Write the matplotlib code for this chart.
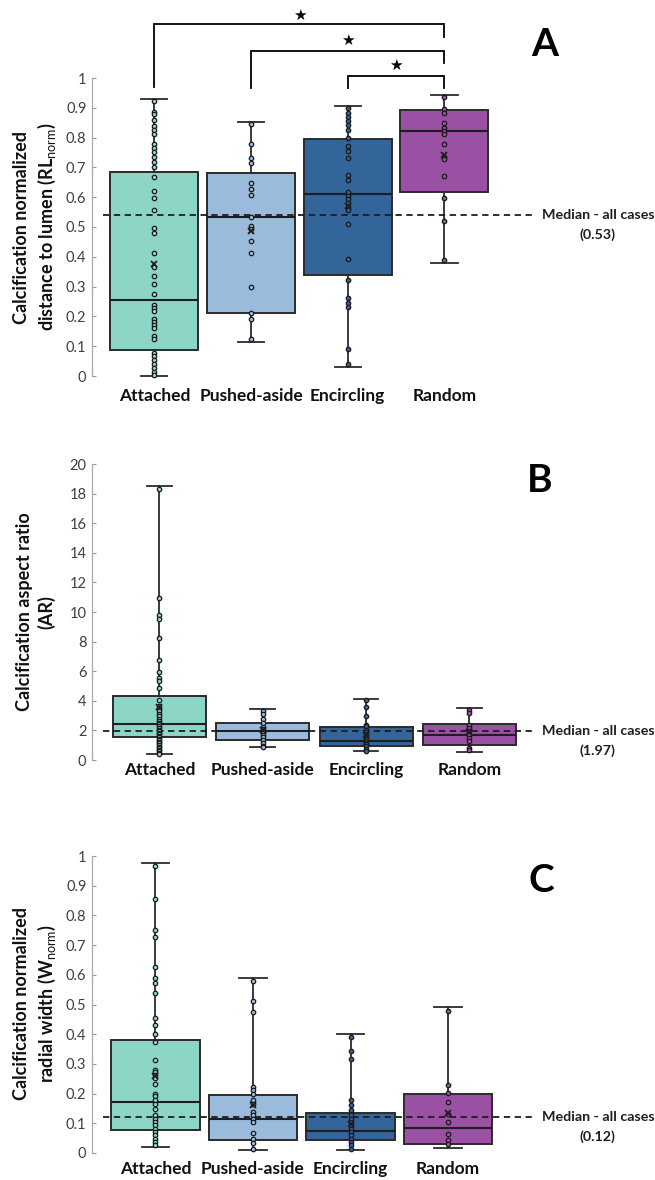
import matplotlib
matplotlib.use("Agg")
import matplotlib.pyplot as plt

plt.rcParams['font.family'] = ['Lato', 'DejaVu Sans']
plt.rcParams['mathtext.fontset'] = 'custom'
plt.rcParams['mathtext.rm'] = 'Lato'
plt.rcParams['mathtext.bf'] = 'Lato:bold'

W, H = 655, 1180

categories = ["Attached", "Pushed-aside", "Encircling", "Random"]
colors = ['#8dd5c7', '#9abbdc', '#33649a', '#9b51a3']

# ---- panel A: normalized distance to lumen ----
att_A = [0.923, 0.887, 0.878, 0.858, 0.839, 0.824, 0.811, 0.777, 0.766, 0.753, 0.735,
         0.718, 0.701, 0.669, 0.621, 0.598, 0.558, 0.498, 0.481, 0.414, 0.366, 0.336,
         0.308, 0.274, 0.238, 0.229, 0.218, 0.192, 0.182, 0.171, 0.160, 0.134, 0.123,
         0.078, 0.067, 0.053, 0.041, 0.028, 0.015, 0.003]
push_A = [0.845, 0.777, 0.730, 0.716, 0.649, 0.629, 0.607, 0.534, 0.503, 0.492, 0.453,
          0.414, 0.300, 0.213, 0.192, 0.125]
enc_A = [0.898, 0.884, 0.869, 0.856, 0.841, 0.824, 0.800, 0.772, 0.755, 0.730, 0.673,
         0.658, 0.619, 0.604, 0.593, 0.582, 0.567, 0.556, 0.509, 0.394, 0.321, 0.263,
         0.246, 0.232, 0.089, 0.039]
rand_A = [0.937, 0.895, 0.884, 0.848, 0.831, 0.822, 0.812, 0.778, 0.734, 0.728, 0.671,
          0.598, 0.521, 0.389]
# q1, median, q3, whisker low, whisker high, mean
stats_A = [(0.087, 0.255, 0.686, 0.000, 0.928, 0.375),
           (0.213, 0.535, 0.680, 0.114, 0.852, 0.487),
           (0.339, 0.610, 0.794, 0.031, 0.906, 0.570),
           (0.617, 0.822, 0.893, 0.379, 0.943, 0.742)]
median_all_A = 0.54

# ---- panel B: aspect ratio ----
att_B = [18.32, 10.95, 9.82, 9.53, 8.25, 6.74, 5.92, 5.54, 5.32, 4.87, 4.08, 3.62, 3.45,
         3.30, 3.12, 2.95, 2.80, 2.65, 2.50, 2.40, 2.30, 2.15, 2.05, 1.95, 1.85, 1.75,
         1.65, 1.55, 1.45, 1.35, 1.25, 1.12, 1.00, 0.90, 0.80, 0.70, 0.60, 0.50, 0.42]
push_B = [3.31, 3.08, 2.74, 2.52, 2.25, 2.07, 1.98, 1.93, 1.85, 1.72, 1.55, 1.32, 1.14,
          0.96, 0.88]
enc_B = [4.03, 3.58, 2.99, 2.38, 2.27, 2.05, 1.90, 1.76, 1.60, 1.42, 1.26, 1.18, 1.08,
         0.93, 0.77, 0.64]
rand_B = [3.35, 3.17, 2.39, 2.17, 1.94, 1.71, 1.49, 1.26, 0.81, 0.65]
stats_B = [(1.55, 2.43, 4.35, 0.40, 18.5, 3.56),
           (1.37, 1.93, 2.50, 0.85, 3.45, 2.03),
           (0.92, 1.26, 2.20, 0.63, 4.14, 1.71),
           (1.03, 1.71, 2.45, 0.54, 3.51, 1.87)]
median_all_B = 1.97

# ---- panel C: normalized radial width ----
att_C = [0.966, 0.854, 0.751, 0.726, 0.627, 0.588, 0.573, 0.539, 0.455, 0.430, 0.399,
         0.374, 0.312, 0.281, 0.273, 0.262, 0.251, 0.234, 0.200, 0.191, 0.180, 0.164,
         0.149, 0.127, 0.116, 0.104, 0.093, 0.082, 0.071, 0.060, 0.048, 0.037, 0.026]
push_C = [0.579, 0.512, 0.475, 0.222, 0.211, 0.200, 0.180, 0.164, 0.138, 0.127, 0.116,
          0.104, 0.069, 0.048, 0.034, 0.015]
enc_C = [0.389, 0.343, 0.318, 0.180, 0.163, 0.144, 0.127, 0.116, 0.104, 0.093, 0.082,
         0.071, 0.060, 0.048, 0.037, 0.026, 0.015]
rand_C = [0.479, 0.230, 0.202, 0.172, 0.130, 0.104, 0.065, 0.043, 0.031]
stats_C = [(0.076, 0.172, 0.382, 0.020, 0.978, 0.260),
           (0.043, 0.116, 0.194, 0.009, 0.590, 0.161),
           (0.043, 0.073, 0.135, 0.011, 0.399, 0.099),
           (0.031, 0.084, 0.197, 0.018, 0.490, 0.133)]
median_all_C = 0.12

# significance brackets in A: (group i, group j, bar level, left drop, right drop, star level)
brackets_A = [(0, 3, 1.181, 0.970, 1.139, 1.210),
              (1, 3, 1.092, 0.966, 1.051, 1.127),
              (2, 3, 1.007, 0.966, 0.966, 1.042)]


def px_axes(fig, left, top, right, bottom):
    return fig.add_axes([left / W, 1 - bottom / H, (right - left) / W, (bottom - top) / H])


def draw_panel(ax, groups, stats, med_all, med_label, ylim, yticks, xlim,
               box_w, cap_w, label_pad, ylabel, ylab_y, letter, letter_xy):
    bstats = []
    for (q1, med, q3, lo, hi, mean) in stats:
        bstats.append(dict(q1=q1, med=med, q3=q3, whislo=lo, whishi=hi, mean=mean, fliers=[]))
    pos = list(range(1, len(groups) + 1))
    art = ax.bxp(bstats, positions=pos, widths=box_w, capwidths=cap_w,
                 showmeans=False, patch_artist=True, showfliers=False,
                 boxprops=dict(edgecolor='#2b2b2b', linewidth=1.4),
                 medianprops=dict(color='#1e1e1e', linewidth=1.5),
                 whiskerprops=dict(color='#2b2b2b', linewidth=1.3),
                 capprops=dict(color='#2b2b2b', linewidth=1.3), zorder=2)
    for patch, c in zip(art['boxes'], colors):
        patch.set_facecolor(c)
    for key in ('whiskers', 'caps', 'medians', 'boxes'):
        for a in art[key]:
            a.set_clip_on(False)
    for p, vals, c in zip(pos, groups, colors):
        ax.plot([p] * len(vals), vals, 'o', ms=3.2, mfc=c, mec='#1a1a1a', mew=0.9,
                zorder=4, clip_on=False)
    for p, s in zip(pos, stats):
        ax.plot(p, s[5], 'x', ms=4.5, mew=1.3, color='#1e1e1e', zorder=5, clip_on=False)

    ax.axhline(med_all, xmin=11 / 443, xmax=1.0, color='#1e1e1e', lw=1.3,
               ls=(0, (3.5, 2.5)), zorder=3, clip_on=False)
    trans = ax.get_yaxis_transform()
    ax.text(1.142, med_all, "Median - all cases", transform=trans, ha='center', va='center',
            fontsize=10.3, fontweight='bold', color='#1e1e1e')
    ax.annotate(f"({med_label})", xy=(1.142, med_all), xycoords=trans, xytext=(0, -14),
                textcoords='offset points', ha='center', va='center',
                fontsize=10.3, fontweight='bold', color='#1e1e1e')

    ax.set_xlim(*xlim)
    ax.set_ylim(*ylim)
    ax.set_yticks(yticks)
    ax.set_yticklabels([f"{t:g}" for t in yticks])
    ax.set_xticks(pos)
    ax.set_xticklabels(categories, fontsize=12.5, fontweight='bold', color='#111111')
    ax.tick_params(axis='x', length=0, pad=label_pad)
    ax.tick_params(axis='y', direction='in', length=3, width=0.8, color='#999999',
                   labelsize=10.5, labelcolor='#404040', pad=4)
    for s in ('top', 'right', 'bottom'):
        ax.spines[s].set_visible(False)
    ax.spines['left'].set_color('#aaaaaa')
    ax.spines['left'].set_linewidth(0.9)

    fig.text(35.5 / W, 1 - ylab_y / H, ylabel, rotation=90, ha='center', va='center',
             fontsize=13, fontweight='bold', color='#111111', linespacing=1.3)
    fig.text(letter_xy[0] / W, 1 - letter_xy[1] / H, letter, ha='center', va='center',
             fontsize=28, fontweight='bold', color='black')


fig = plt.figure(figsize=(W / 100, H / 100), dpi=100)

axA = px_axes(fig, 92, 78, 535, 376)
draw_panel(axA, [att_A, push_A, enc_A, rand_A], stats_A, median_all_A, "0.53",
           (0, 1), [round(0.1 * i, 1) for i in range(11)], (0.356, 4.936),
           0.91, 0.27, 8.5, "Calcification normalized\ndistance to lumen (RL$_{\\mathrm{norm}}$)",
           227, "A", (545, 44))
for i, j, lvl, dl, dr, star in brackets_A:
    axA.plot([i + 1, i + 1, j + 1, j + 1], [dl, lvl, lvl, dr], color='black', lw=1.3,
             clip_on=False, solid_joinstyle='miter')
    axA.text((i + j + 2) / 2, star, "\u2605", ha='center', va='center', fontsize=11,
             family='DejaVu Sans', clip_on=False)

axB = px_axes(fig, 92, 464, 535, 760)
draw_panel(axB, [att_B, push_B, enc_B, rand_B], stats_B, median_all_B, "1.97",
           (0, 20), list(range(0, 21, 2)), (0.347, 4.635),
           0.9, 0.24, 1.5, "Calcification aspect ratio\n(AR)",
           612, "B", (540, 480))

axC = px_axes(fig, 92, 856, 535, 1153)
draw_panel(axC, [att_C, push_C, enc_C, rand_C], stats_C, median_all_C, "0.12",
           (0, 1), [round(0.1 * i, 1) for i in range(11)], (0.349, 4.892),
           0.91, 0.28, 5.5, "Calcification normalized\nradial width (W$_{\\mathrm{norm}}$)",
           1004, "C", (541, 881))

fig.savefig("out.png", dpi=100)
